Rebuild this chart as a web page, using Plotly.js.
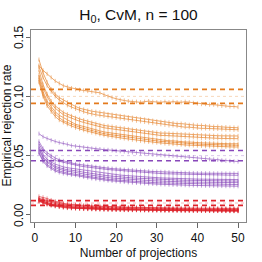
<!DOCTYPE html>
<html>
<head>
<meta charset="utf-8">
<script src="https://cdn.plot.ly/plotly-3.0.1.min.js"></script>
<style>html,body{margin:0;padding:0;background:#fff;}#chart{width:262px;height:262px;}</style>
</head>
<body>
<div id="chart"></div>
<script>
var projections = [1,2,3,4,5,6,7,8,9,10,11,12,13,14,15,16,17,18,19,20,21,22,23,24,25,26,27,28,29,30,31,32,33,34,35,36,37,38,39,40,41,42,43,44,45,46,47,48,49,50];

// alpha = 0.10 (orange)
var orange1 = [0.126,0.122,0.119,0.116,0.113,0.111,0.109,0.108,0.107,0.106,0.1055,0.105,0.1045,0.104,0.1035,0.103,0.1015,0.100,0.099,0.098,0.097,0.0965,0.096,0.0955,0.0955,0.095,0.0955,0.096,0.0955,0.095,0.095,0.0955,0.095,0.0955,0.095,0.095,0.0955,0.095,0.0945,0.094,0.0935,0.0935,0.093,0.093,0.0925,0.092,0.092,0.0915,0.0915,0.091];
var orange2 = [0.131,0.120,0.112,0.106,0.102,0.099,0.097,0.095,0.093,0.0915,0.090,0.089,0.088,0.0875,0.087,0.0865,0.086,0.085,0.0845,0.084,0.0835,0.083,0.0825,0.082,0.0815,0.081,0.0805,0.080,0.0795,0.079,0.0785,0.0785,0.078,0.0775,0.077,0.077,0.0765,0.076,0.076,0.0755,0.0755,0.075,0.075,0.0745,0.0745,0.074,0.074,0.0738,0.0737,0.0735];
var orange3 = [0.125,0.116,0.109,0.104,0.100,0.097,0.0945,0.0925,0.091,0.0895,0.088,0.087,0.086,0.085,0.0845,0.084,0.0835,0.083,0.0825,0.082,0.0815,0.081,0.0805,0.080,0.0795,0.079,0.0785,0.078,0.0775,0.077,0.0765,0.076,0.0755,0.0755,0.075,0.0745,0.074,0.074,0.0735,0.0735,0.073,0.073,0.0728,0.0725,0.0725,0.0722,0.072,0.072,0.0718,0.0718];
var orange4 = [0.122,0.110,0.102,0.096,0.092,0.089,0.0865,0.085,0.0835,0.082,0.081,0.080,0.079,0.078,0.077,0.076,0.0755,0.075,0.0745,0.074,0.0735,0.073,0.0725,0.072,0.0715,0.071,0.0705,0.070,0.0698,0.0695,0.069,0.069,0.0688,0.0685,0.0685,0.068,0.068,0.0678,0.0675,0.0675,0.0672,0.067,0.067,0.0668,0.0668,0.0667,0.0666,0.0666,0.0665,0.0666];
var orange5 = [0.118,0.107,0.100,0.094,0.090,0.087,0.0845,0.083,0.0815,0.080,0.079,0.078,0.077,0.076,0.075,0.074,0.0735,0.073,0.0725,0.072,0.0715,0.071,0.0705,0.070,0.0695,0.069,0.0685,0.068,0.0678,0.0675,0.067,0.067,0.0668,0.0665,0.066,0.066,0.0658,0.0655,0.0655,0.0652,0.065,0.065,0.0648,0.0648,0.0646,0.0645,0.0645,0.0644,0.0643,0.0643];
var orange6 = [0.116,0.104,0.096,0.091,0.087,0.084,0.082,0.080,0.078,0.0765,0.0755,0.0745,0.0735,0.0725,0.0715,0.071,0.070,0.0695,0.069,0.0685,0.068,0.0675,0.067,0.0665,0.066,0.0655,0.065,0.0645,0.064,0.0635,0.063,0.063,0.0625,0.0625,0.062,0.062,0.0615,0.0615,0.061,0.061,0.0608,0.0606,0.0605,0.0604,0.0603,0.0602,0.0601,0.060,0.060,0.060];
var orange7 = [0.114,0.102,0.094,0.089,0.085,0.082,0.0795,0.078,0.0765,0.075,0.074,0.073,0.072,0.071,0.070,0.069,0.0685,0.068,0.0675,0.067,0.0665,0.066,0.0655,0.065,0.0645,0.064,0.0635,0.063,0.0628,0.0625,0.062,0.0618,0.0615,0.061,0.061,0.0605,0.0603,0.060,0.060,0.0598,0.0596,0.0595,0.0593,0.0592,0.059,0.059,0.0589,0.0588,0.0587,0.0587];
var orange8 = [0.112,0.100,0.092,0.087,0.083,0.080,0.078,0.0765,0.075,0.0735,0.0725,0.0715,0.0705,0.0695,0.0688,0.068,0.0672,0.0665,0.066,0.0655,0.065,0.0645,0.064,0.0635,0.063,0.0625,0.062,0.0617,0.0613,0.061,0.0607,0.0603,0.060,0.0598,0.0595,0.0593,0.059,0.0588,0.0586,0.0584,0.0582,0.058,0.0579,0.0578,0.0577,0.0576,0.0575,0.0574,0.0573,0.0573];

// alpha = 0.05 (purple)
var purple1 = [0.0685,0.066,0.0645,0.063,0.062,0.061,0.0605,0.0595,0.0585,0.058,0.0575,0.057,0.0565,0.056,0.0558,0.0555,0.055,0.0548,0.0545,0.054,0.0538,0.0535,0.053,0.0528,0.0525,0.052,0.0518,0.0515,0.051,0.0508,0.0505,0.0502,0.050,0.0498,0.0495,0.0492,0.049,0.0488,0.0485,0.048,0.0478,0.0475,0.047,0.0468,0.0465,0.046,0.0458,0.0455,0.0452,0.045];
var purple2 = [0.062,0.056,0.0525,0.050,0.048,0.0465,0.0455,0.0445,0.0438,0.043,0.0425,0.042,0.0415,0.041,0.0405,0.040,0.0398,0.0395,0.039,0.0388,0.0385,0.0382,0.038,0.0378,0.0375,0.0372,0.037,0.0368,0.0366,0.0365,0.0363,0.0362,0.036,0.0358,0.0357,0.0356,0.0355,0.0354,0.0353,0.0352,0.0352,0.0351,0.0351,0.035,0.035,0.035,0.0349,0.0349,0.035,0.035];
var purple3 = [0.060,0.054,0.0505,0.048,0.046,0.0452,0.0443,0.0435,0.0428,0.042,0.0413,0.0407,0.0402,0.0398,0.0394,0.039,0.0386,0.0383,0.038,0.0377,0.0374,0.0371,0.0368,0.0365,0.0362,0.036,0.0357,0.0355,0.0353,0.0351,0.0349,0.0347,0.0346,0.0344,0.0343,0.0342,0.0341,0.034,0.0339,0.0338,0.0338,0.0337,0.0336,0.0336,0.0335,0.0335,0.0334,0.0335,0.0334,0.0334];
var purple4 = [0.058,0.051,0.047,0.0445,0.0428,0.0415,0.0405,0.0398,0.0393,0.039,0.0382,0.0375,0.037,0.0365,0.036,0.0355,0.035,0.0346,0.0342,0.0339,0.0336,0.0333,0.033,0.0327,0.0325,0.0322,0.032,0.0318,0.0316,0.0314,0.0312,0.0311,0.0309,0.0308,0.0307,0.0306,0.0305,0.0304,0.0303,0.0302,0.0301,0.0301,0.030,0.030,0.0299,0.0299,0.0298,0.0298,0.0298,0.0298];
var purple5 = [0.056,0.049,0.0453,0.0428,0.041,0.0398,0.0388,0.038,0.0377,0.0375,0.0367,0.036,0.0354,0.0348,0.0343,0.0338,0.0334,0.033,0.0327,0.0323,0.032,0.0318,0.0315,0.0312,0.031,0.0308,0.0306,0.0304,0.0302,0.030,0.0299,0.0297,0.0296,0.0295,0.0294,0.0293,0.0292,0.0291,0.029,0.0289,0.0289,0.0288,0.0287,0.0287,0.0286,0.0286,0.0286,0.0285,0.0285,0.0285];
var purple6 = [0.055,0.048,0.0443,0.0417,0.0398,0.0385,0.0375,0.0368,0.0364,0.036,0.0352,0.0345,0.0339,0.0333,0.0328,0.0323,0.0319,0.0315,0.0311,0.0308,0.0305,0.0302,0.030,0.0298,0.0296,0.0294,0.0292,0.029,0.0288,0.0286,0.0285,0.0283,0.0282,0.0281,0.028,0.0279,0.0278,0.0277,0.0277,0.0276,0.0275,0.0275,0.0274,0.0274,0.0273,0.0273,0.0273,0.0272,0.0272,0.0272];
var purple7 = [0.053,0.046,0.0425,0.040,0.0382,0.037,0.036,0.0353,0.0348,0.0345,0.0337,0.033,0.0324,0.0318,0.0313,0.0308,0.0304,0.030,0.0297,0.0294,0.0291,0.0288,0.0285,0.0283,0.0281,0.0279,0.0277,0.0275,0.0273,0.0271,0.027,0.0268,0.0267,0.0266,0.0265,0.0264,0.0263,0.0262,0.0261,0.026,0.026,0.0259,0.0259,0.0258,0.0258,0.0257,0.0257,0.0257,0.0256,0.0256];
var purple8 = [0.052,0.045,0.0413,0.0388,0.037,0.0358,0.0349,0.0343,0.0338,0.0335,0.0327,0.032,0.0314,0.0308,0.0303,0.0298,0.0294,0.029,0.0287,0.0284,0.0281,0.0278,0.0275,0.0272,0.027,0.0268,0.0266,0.0264,0.0262,0.026,0.0258,0.0257,0.0255,0.0254,0.0253,0.0252,0.0251,0.025,0.0249,0.0248,0.0247,0.0246,0.0246,0.0245,0.0244,0.0244,0.0243,0.0243,0.0242,0.0242];

// alpha = 0.01 (red)
var red1 = [0.0155,0.0148,0.0138,0.0125,0.0115,0.0105,0.0098,0.0092,0.0088,0.0085,0.0082,0.008,0.0078,0.0076,0.0074,0.0073,0.0072,0.007,0.0069,0.0068,0.0067,0.0066,0.0065,0.0065,0.0064,0.0063,0.0062,0.0062,0.0061,0.0061,0.006,0.006,0.0059,0.0059,0.0058,0.0058,0.0058,0.0057,0.0057,0.0057,0.0056,0.0056,0.0056,0.0056,0.0055,0.0055,0.0055,0.0055,0.0055,0.0055];
var red2 = [0.014,0.0132,0.012,0.011,0.0102,0.0095,0.009,0.0085,0.0081,0.0078,0.0075,0.0073,0.0071,0.0069,0.0068,0.0066,0.0065,0.0064,0.0063,0.0062,0.0061,0.006,0.0059,0.0058,0.0058,0.0057,0.0056,0.0056,0.0055,0.0055,0.0054,0.0054,0.0053,0.0053,0.0053,0.0052,0.0052,0.0052,0.0051,0.0051,0.0051,0.005,0.005,0.005,0.005,0.0049,0.0049,0.0049,0.0049,0.0049];
var red3 = [0.0135,0.0125,0.0112,0.0102,0.0094,0.0088,0.0083,0.0078,0.0074,0.0071,0.0068,0.0066,0.0064,0.0063,0.0061,0.006,0.0059,0.0058,0.0057,0.0056,0.0055,0.0055,0.0054,0.0053,0.0053,0.0052,0.0052,0.0051,0.0051,0.005,0.005,0.0049,0.0049,0.0049,0.0048,0.0048,0.0048,0.0047,0.0047,0.0047,0.0046,0.0046,0.0046,0.0046,0.0045,0.0045,0.0045,0.0045,0.0045,0.0044];
var red4 = [0.013,0.0118,0.0105,0.0095,0.0088,0.0082,0.0077,0.0073,0.0069,0.0066,0.0064,0.0062,0.006,0.0059,0.0057,0.0056,0.0055,0.0054,0.0053,0.0052,0.0052,0.0051,0.005,0.005,0.0049,0.0049,0.0048,0.0048,0.0047,0.0047,0.0046,0.0046,0.0046,0.0045,0.0045,0.0045,0.0044,0.0044,0.0044,0.0043,0.0043,0.0043,0.0043,0.0042,0.0042,0.0042,0.0042,0.0041,0.0041,0.0041];
var red5 = [0.0125,0.0112,0.010,0.009,0.0083,0.0077,0.0072,0.0068,0.0065,0.0062,0.006,0.0058,0.0056,0.0055,0.0054,0.0053,0.0052,0.0051,0.005,0.0049,0.0048,0.0048,0.0047,0.0046,0.0046,0.0045,0.0045,0.0044,0.0044,0.0043,0.0043,0.0043,0.0042,0.0042,0.0042,0.0041,0.0041,0.0041,0.004,0.004,0.004,0.004,0.0039,0.0039,0.0039,0.0039,0.0038,0.0038,0.0038,0.0038];
var red6 = [0.012,0.0107,0.0095,0.0086,0.0079,0.0073,0.0068,0.0064,0.0061,0.0058,0.0056,0.0054,0.0053,0.0052,0.0051,0.005,0.0049,0.0048,0.0047,0.0046,0.0046,0.0045,0.0044,0.0044,0.0043,0.0043,0.0042,0.0042,0.0041,0.0041,0.0041,0.004,0.004,0.004,0.0039,0.0039,0.0039,0.0038,0.0038,0.0038,0.0037,0.0037,0.0037,0.0037,0.0036,0.0036,0.0036,0.0036,0.0035,0.0035];
var red7 = [0.0118,0.0104,0.0092,0.0083,0.0076,0.007,0.0065,0.0061,0.0058,0.0056,0.0054,0.0052,0.0051,0.005,0.0049,0.0048,0.0047,0.0046,0.0045,0.0044,0.0044,0.0043,0.0042,0.0042,0.0041,0.0041,0.004,0.004,0.0039,0.0039,0.0039,0.0038,0.0038,0.0038,0.0037,0.0037,0.0037,0.0036,0.0036,0.0036,0.0035,0.0035,0.0035,0.0035,0.0034,0.0034,0.0034,0.0034,0.0033,0.0033];
var red8 = [0.0113,0.0099,0.0088,0.0079,0.0072,0.0067,0.0062,0.0058,0.0056,0.0054,0.0052,0.005,0.0049,0.0048,0.0047,0.0046,0.0045,0.0044,0.0043,0.0043,0.0042,0.0041,0.0041,0.004,0.004,0.0039,0.0039,0.0038,0.0038,0.0038,0.0037,0.0037,0.0037,0.0036,0.0036,0.0036,0.0035,0.0035,0.0035,0.0034,0.0034,0.0034,0.0034,0.0033,0.0033,0.0033,0.0033,0.0032,0.0032,0.0032];

// nominal levels and confidence bands
var alphaLevels = [0.10, 0.05, 0.01];
var bandLower = [0.0941, 0.0457, 0.0080];
var bandUpper = [0.1059, 0.0543, 0.0120];

var yTickVals = [0, 0.05, 0.10, 0.15];
var yTickText = ['0.00', '0.05', '0.10', '0.15'];
var xTickVals = [0, 10, 20, 30, 40, 50];

var groupColors = ['rgb(228,122,28)', 'rgb(136,72,186)', 'rgb(222,34,42)'];
var groups = [
  [orange1, orange2, orange3, orange4, orange5, orange6, orange7, orange8],
  [purple1, purple2, purple3, purple4, purple5, purple6, purple7, purple8],
  [red1, red2, red3, red4, red5, red6, red7, red8]
];

var traces = [];
groups.forEach(function (g, gi) {
  g.forEach(function (ys) {
    traces.push({
      x: projections, y: ys, type: 'scatter', mode: 'lines+markers',
      line: {color: groupColors[gi], width: 0.8},
      marker: {symbol: 'line-ns', size: 3, line: {color: groupColors[gi], width: 0.6}},
      opacity: 0.8, showlegend: false, hoverinfo: 'skip'
    });
  });
});

var shapes = [];
alphaLevels.forEach(function (a, i) {
  var c = groupColors[i];
  shapes.push({type: 'line', xref: 'paper', x0: 0, x1: 1, yref: 'y', y0: a, y1: a,
    line: {color: c.replace('rgb', 'rgba').replace(')', ',0.3)'), width: 1, dash: 'dot'}});
  shapes.push({type: 'line', xref: 'paper', x0: 0, x1: 1, yref: 'y', y0: bandLower[i], y1: bandLower[i],
    line: {color: c, width: 1.6, dash: '5px,4px'}});
  shapes.push({type: 'line', xref: 'paper', x0: 0, x1: 1, yref: 'y', y0: bandUpper[i], y1: bandUpper[i],
    line: {color: c, width: 1.6, dash: '5px,4px'}});
});

var font = 'Liberation Sans, Arial, Helvetica, sans-serif';
var plotW = 215;

var annotations = [{
  text: 'Empirical rejection rate', textangle: -90, showarrow: false,
  xref: 'paper', x: -24.5 / plotW, xanchor: 'center', yref: 'paper', y: 0.5, yanchor: 'middle',
  font: {family: font, size: 12, color: '#111'}
}];
yTickVals.forEach(function (v, i) {
  annotations.push({
    text: yTickText[i], textangle: -90, showarrow: false,
    xref: 'paper', x: -12 / plotW, xanchor: 'center', yref: 'y', y: v, yanchor: 'middle',
    font: {family: font, size: 12, color: '#111'}
  });
});

var layout = {
  width: 262, height: 262,
  margin: {l: 31, r: 16, t: 30, b: 40, pad: 0},
  paper_bgcolor: '#fff', plot_bgcolor: '#fff',
  font: {family: font, size: 12, color: '#111'},
  title: {text: 'H<sub>0</sub>, CvM, n = 100', font: {family: font, size: 15.5, color: '#111'},
    xref: 'paper', x: 0.5, xanchor: 'center', yref: 'container', y: 0.945, yanchor: 'middle'},
  xaxis: {
    range: [-0.96, 51.96], tickvals: xTickVals, ticks: 'outside', ticklen: 5, tickwidth: 1,
    tickcolor: '#666', showline: true, mirror: true, linecolor: '#888', linewidth: 1,
    showgrid: false, zeroline: false, tickfont: {size: 12, color: '#111'},
    title: {text: 'Number of projections', font: {size: 12, color: '#111'}, standoff: 4}
  },
  yaxis: {
    range: [-0.006, 0.156], tickvals: yTickVals, showticklabels: false,
    ticks: 'outside', ticklen: 4, tickwidth: 1, tickcolor: '#666',
    showline: true, mirror: true, linecolor: '#888', linewidth: 1,
    showgrid: false, zeroline: false
  },
  annotations: annotations,
  shapes: shapes
};

Plotly.newPlot('chart', traces, layout, {staticPlot: true, displayModeBar: false});
</script>
</body>
</html>
